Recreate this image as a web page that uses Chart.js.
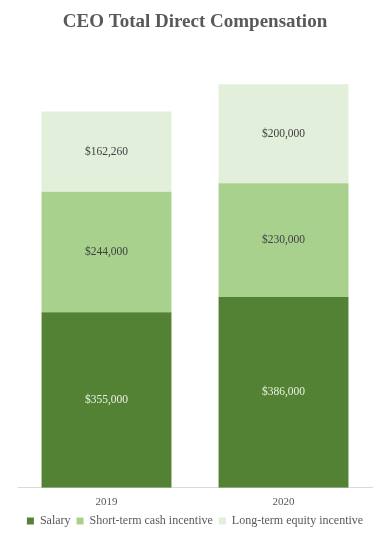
<!DOCTYPE html>
<html>
<head>
<meta charset="utf-8">
<script src="https://cdn.jsdelivr.net/npm/chart.js@4/dist/chart.umd.min.js"></script>
<style>
html,body{margin:0;padding:0;background:#fff;}
#wrap{width:389px;height:541px;position:relative;}
</style>
</head>
<body>
<div id="wrap"><canvas id="c" width="389" height="541"></canvas></div>
<script>
const categories = ["2019", "2020"];
const salary = [355000, 386000];
const shortTermCash = [244000, 230000];
const longTermEquity = [162260, 200000];
const seriesNames = ["Salary", "Short-term cash incentive", "Long-term equity incentive"];

const fmt = v => "$" + v.toLocaleString("en-US");

const labelPlugin = {
  id: "barLabels",
  afterDatasetsDraw(chart) {
    const ctx = chart.ctx;
    ctx.save();
    ctx.font = "11.5px 'Liberation Serif', serif";
    ctx.textAlign = "center";
    ctx.textBaseline = "middle";
    chart.data.datasets.forEach((ds, i) => {
      const meta = chart.getDatasetMeta(i);
      meta.data.forEach((bar, j) => {
        const y = (bar.y + bar.base) / 2;
        ctx.fillStyle = i === 0 ? "#e8f0e0" : "#404040";
        ctx.fillText(fmt(ds.data[j]), bar.x, y);
      });
    });
    ctx.restore();
  }
};

new Chart(document.getElementById("c"), {
  type: "bar",
  data: {
    labels: categories,
    datasets: [
      { label: seriesNames[0], data: salary, backgroundColor: "#548235" },
      { label: seriesNames[1], data: shortTermCash, backgroundColor: "#a9d18e" },
      { label: seriesNames[2], data: longTermEquity, backgroundColor: "#e2efda" }
    ]
  },
  options: {
    responsive: false,
    animation: false,
    layout: { padding: { left: 18, right: 17, top: 0, bottom: 4 } },
    datasets: { bar: { categoryPercentage: 1, barPercentage: 0.734 } },
    plugins: {
      title: {
        display: true,
        text: "CEO Total Direct Compensation",
        color: "#595959",
        font: { family: "'Liberation Serif', serif", size: 19, weight: "bold" },
        padding: { top: 11, bottom: 9 }
      },
      legend: {
        position: "bottom",
        labels: {
          boxWidth: 7, boxHeight: 7,
          color: "#595959",
          padding: 6,
          font: { family: "'Liberation Serif', serif", size: 12 }
        }
      },
      tooltip: { enabled: false }
    },
    scales: {
      x: {
        stacked: true,
        grid: { display: false },
        border: { color: "#d9d9d9" },
        ticks: { color: "#595959", font: { family: "'Liberation Serif', serif", size: 11 }, padding: 0 }
      },
      y: {
        stacked: true,
        display: false,
        min: 0, max: 900000
      }
    }
  },
  plugins: [labelPlugin]
});
</script>
</body>
</html>
